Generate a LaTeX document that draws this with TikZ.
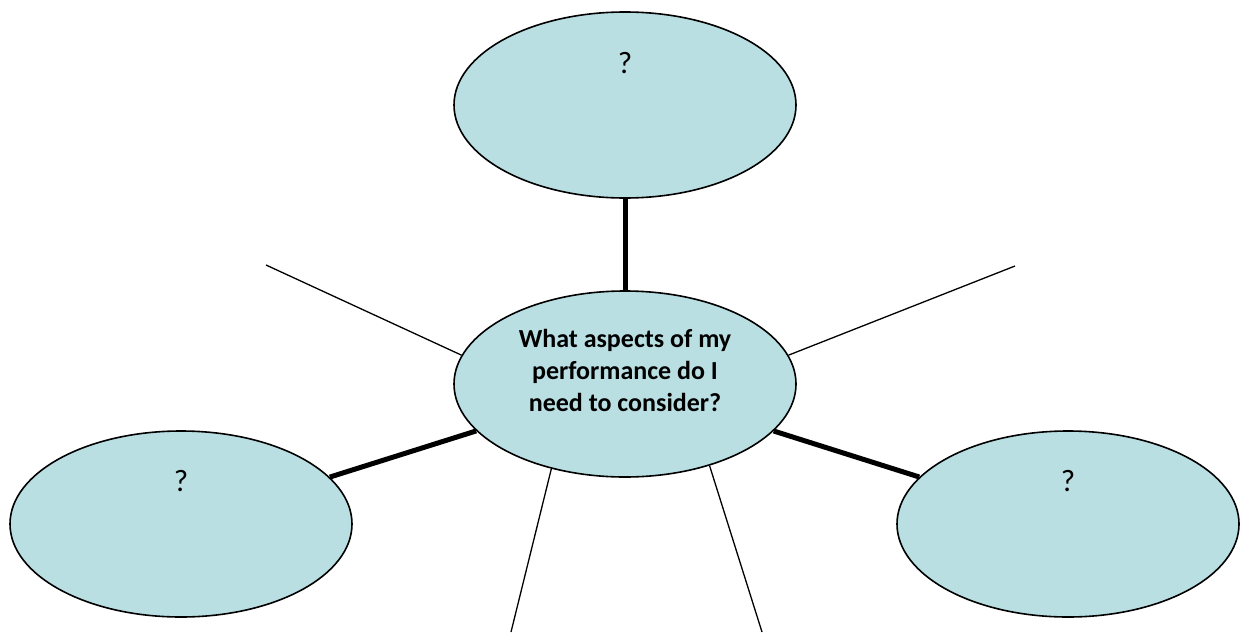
\documentclass[tikz,border=0pt]{standalone}
\usepackage{fontspec}
\setmainfont{Carlito}
\usetikzlibrary{calc}
\usetikzlibrary{shapes.geometric}
\definecolor{mylightblue}{RGB}{185,223,227}

\begin{document}
\begin{tikzpicture}[x=1pt, y=-1pt,
    bubble/.style={ellipse, draw=black, line width=1.6pt, fill=mylightblue,
      minimum width=342pt, minimum height=186pt, inner sep=0pt},
    qmark/.style={font=\fontsize{31}{36}\selectfont},
    spoke/.style={line width=5pt},
    blank/.style={line width=1.3pt}]

    \useasboundingbox (0,0) rectangle (1241,632);

    \coordinate (NW) at (266,265);
    \coordinate (NE) at (1015,266);
    \coordinate (SW) at (511,632);
    \coordinate (SE) at (762,632);

    \node[bubble] (top) at (625,105) {};
    \node[bubble] (left) at (181,524) {};
    \node[bubble] (right) at (1068,524) {};
    \node[bubble] (mid) at (625,384) {};

    \draw[spoke] (top) -- (mid);
    \draw[spoke] (left) -- (mid);
    \draw[spoke] (right) -- (mid);
    \draw[blank] (mid.170) -- (NW);
    \draw[blank] (mid.10) -- (NE);
    \draw[blank] (mid.229) -- (SW);
    \draw[blank] (mid.316) -- (SE);

    \node[qmark] (topq) at (625,63) {?};
    \node[qmark] (leftq) at (181,481) {?};
    \node[qmark] (rightq) at (1068,481) {?};
    \node[align=center, font=\fontsize{26}{32}\selectfont\bfseries] (question) at (625,370)
      {What aspects of my\\performance do I\\need to consider?};
\end{tikzpicture}
\end{document}
